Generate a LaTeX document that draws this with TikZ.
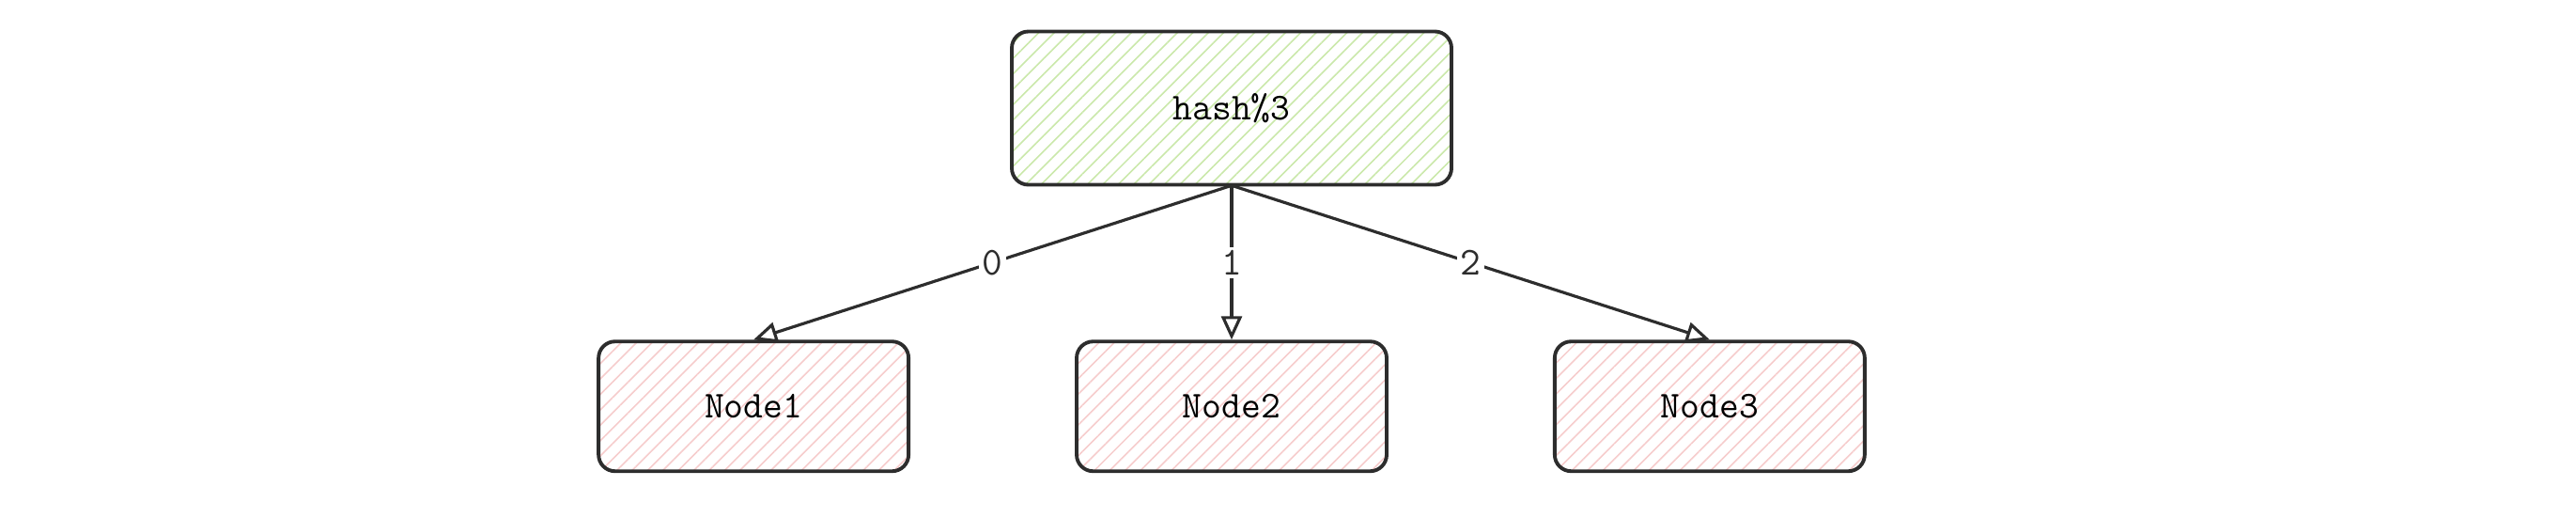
\documentclass[tikz,border=0pt]{standalone}
\usepackage{tikz}
\usetikzlibrary{arrows.meta, positioning, patterns.meta}
\definecolor{hashgreen}{RGB}{202,232,170}
\definecolor{nodepink}{RGB}{246,204,204}
\definecolor{edgegray}{RGB}{45,45,45}
\tikzset{
  hashbox/.style = {draw=edgegray, line width=1.1pt, rounded corners=5pt,
                    minimum width=4.68cm, minimum height=1.63cm,
                    font=\ttfamily\fontsize{11.5}{14}\selectfont,
                    pattern={Lines[angle=45, distance=3.3pt, line width=0.45pt]},
                    pattern color=hashgreen},
  nodebox/.style = {draw=edgegray, line width=1.1pt, rounded corners=5pt,
                    minimum width=3.3cm, minimum height=1.38cm,
                    font=\ttfamily\fontsize{11.5}{14}\selectfont,
                    pattern={Lines[angle=45, distance=3.3pt, line width=0.45pt]},
                    pattern color=nodepink},
  link/.style    = {-{Triangle[open, length=2.5mm, width=2.2mm]}, line width=0.9pt, edgegray},
  linklabel/.style = {fill=white, inner sep=1pt,
                      font=\ttfamily\fontsize{12}{14}\selectfont},
}

\begin{document}
\begin{tikzpicture}[node distance=1.64cm and 1.75cm]
    \useasboundingbox (0,0) rectangle (27.42,5.5);
    \node[hashbox] (hash) at (13.11,4.35) {hash\%3};
    \node[nodebox, below=of hash] (node2) {Node2};
    \node[nodebox, left=of node2]  (node1) {Node1};
    \node[nodebox, right=of node2] (node3) {Node3};

    \draw[link] (hash.south) -- node[linklabel] {0} (node1.north);
    \draw[link] (hash.south) -- node[linklabel] {1} (node2.north);
    \draw[link] (hash.south) -- node[linklabel] {2} (node3.north);
  \end{tikzpicture}
\end{document}
